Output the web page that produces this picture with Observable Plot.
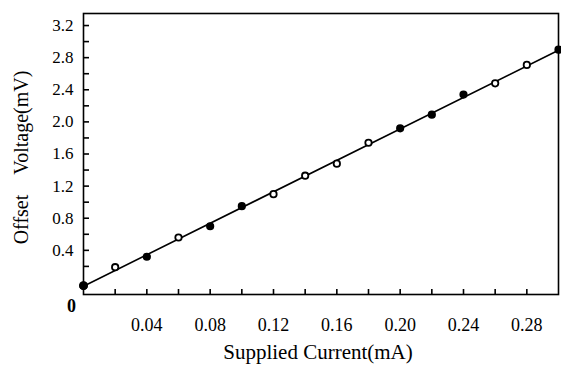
<!DOCTYPE html>
<html><head><meta charset="utf-8">
<script src="https://cdn.jsdelivr.net/npm/d3@7"></script>
<script src="https://cdn.jsdelivr.net/npm/@observablehq/plot@0.6"></script>
<style>body{margin:0;background:#fff} svg{display:block} svg text{font-family:'Liberation Serif',serif}</style>
</head><body><div id="chart"></div>
<script>
const current = [0, 0.02, 0.04, 0.06, 0.08, 0.10, 0.12, 0.14, 0.16, 0.18, 0.20, 0.22, 0.24, 0.26, 0.28, 0.30];
const voltage = [-0.04, 0.19, 0.32, 0.56, 0.70, 0.95, 1.10, 1.33, 1.48, 1.74, 1.92, 2.09, 2.34, 2.48, 2.71, 2.90];
const filled  = [true, false, true, false, true, true, false, false, false, false, true, true, true, false, false, true];
const xMinorTicks = [0.02, 0.04, 0.06, 0.08, 0.10, 0.12, 0.14, 0.16, 0.18, 0.20, 0.22, 0.24, 0.26, 0.28];
const xLabelTicks = [0.04, 0.08, 0.12, 0.16, 0.20, 0.24, 0.28];
const yMinorTicks = [0.2, 0.4, 0.6, 0.8, 1.0, 1.2, 1.4, 1.6, 1.8, 2.0, 2.2, 2.4, 2.6, 2.8, 3.0, 3.2];
const yLabelTicks = [0.4, 0.8, 1.2, 1.6, 2.0, 2.4, 2.8, 3.2];
const originLabel = "0";
const xTitle = "Supplied Current(mA)";
const yTitle = "Offset\u00a0\u00a0\u00a0\u00a0Voltage(mV)";
const xDomain = [0, 0.30];
const yDomain = [-0.15, 3.35];

const data = current.map((c, i) => ({current: c, voltage: voltage[i], filled: filled[i]}));
const serif = "'Liberation Serif', serif";

const chart = Plot.plot({
  width: 561,
  height: 372,
  marginLeft: 83,
  marginRight: 3,
  marginTop: 13,
  marginBottom: 78,
  style: {fontFamily: serif, fontSize: "17px", color: "#000", background: "#fff"},
  x: {domain: xDomain},
  y: {domain: yDomain},
  marks: [
    Plot.frame({stroke: "#000", strokeWidth: 1.6}),
    Plot.axisX({ticks: xMinorTicks, tickSize: -5, tickFormat: () => "", strokeWidth: 1.6, label: null}),
    Plot.axisX({ticks: xLabelTicks, tickSize: 0, tickPadding: 24, tickFormat: d3.format(".2f"), fontSize: 18, fontFamily: serif, label: null}),
    Plot.axisY({ticks: yMinorTicks, tickSize: -6, tickFormat: () => "", strokeWidth: 1.6, label: null}),
    Plot.axisY({ticks: yLabelTicks, tickSize: 0, tickPadding: 10, tickFormat: d3.format(".1f"), fontSize: 17, fontFamily: serif, label: null}),
    Plot.text([originLabel], {x: xDomain[0], y: yDomain[0], dx: -12, dy: 12, fontSize: 18, fontWeight: "bold", fontFamily: serif}),
    Plot.text([xTitle], {frameAnchor: "bottom", textAnchor: "middle", lineAnchor: "middle", dx: -3, dy: 58, fontSize: 21, fontFamily: serif}),
    Plot.text([yTitle], {frameAnchor: "left", textAnchor: "middle", lineAnchor: "middle", dx: -62, dy: 3.5, rotate: -90, fontSize: 20, fontFamily: serif}),
    Plot.linearRegressionY(data, {x: "current", y: "voltage", ci: 0, stroke: "#000", strokeWidth: 1.6}),
    Plot.dot(data, {x: "current", y: "voltage", r: 3.2, stroke: "#000", strokeWidth: 1.8, fill: d => d.filled ? "#000" : "#fff"}),
    Plot.dot([data[0]], {x: "current", y: "voltage", r: 4.5, fill: "#000"})
  ]
});
document.getElementById("chart").appendChild(chart);
</script>
</body></html>
